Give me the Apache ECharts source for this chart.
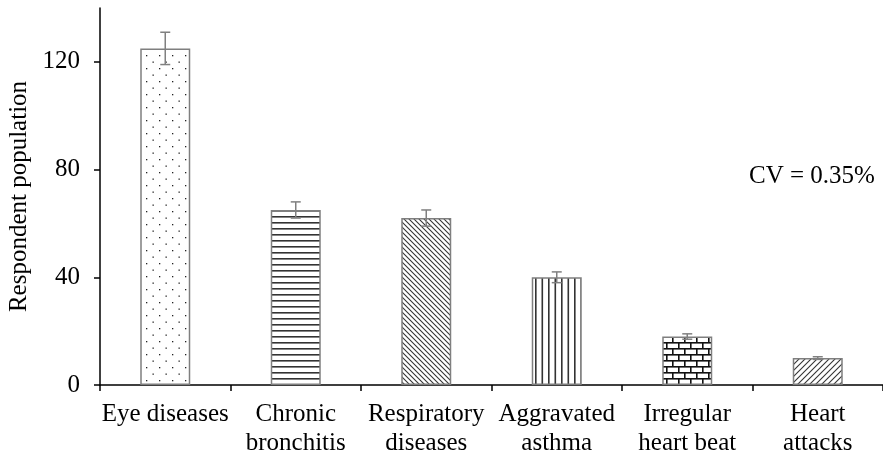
<!DOCTYPE html>
<html>
<head>
<meta charset="utf-8">
<script src="https://cdn.jsdelivr.net/npm/echarts@6/dist/echarts.min.js"></script>
<style>
html,body{margin:0;padding:0;background:#fff;}
#main{width:883px;height:466px;}
</style>
</head>
<body>
<div id="main"></div>
<script>
var categories = ['Eye diseases', 'Chronic\nbronchitis', 'Respiratory\ndiseases', 'Aggravated\nasthma', 'Irregular\nheart beat', 'Heart\nattacks'];
var values = [125, 65, 62, 40, 18, 10];
var errors = [6, 3, 3, 2, 1, 0.5];
var yTicks = [0, 40, 80, 120];
var annotation = 'CV = 0.35%';

function mk(w, h, draw) {
  var c = document.createElement('canvas');
  c.width = w; c.height = h;
  var ctx = c.getContext('2d');
  ctx.fillStyle = '#fff';
  ctx.fillRect(0, 0, w, h);
  draw(ctx, w, h);
  return c;
}
var patDots = mk(13, 13, function (ctx) {
  ctx.fillStyle = '#222';
  ctx.fillRect(3, 3, 1.3, 1.3);
  ctx.fillRect(9.5, 9.5, 1.3, 1.3);
});
var patHoriz = mk(10, 6, function (ctx, w) {
  ctx.fillStyle = '#333';
  ctx.fillRect(0, 0, w, 1.6);
});
function diag(s, dir, lw) {
  return mk(s, s, function (ctx) {
    ctx.strokeStyle = '#333';
    ctx.lineWidth = lw;
    [-s, 0, s].forEach(function (o) {
      ctx.beginPath();
      if (dir > 0) {
        ctx.moveTo(-s, -s + o); ctx.lineTo(2 * s, 2 * s + o);
      } else {
        ctx.moveTo(-s, 2 * s + o); ctx.lineTo(2 * s, -s + o);
      }
      ctx.stroke();
    });
  });
}
var patBack = diag(5, 1, 1.1);
var patVert = mk(13, 10, function (ctx, w, h) {
  ctx.fillStyle = '#333';
  ctx.fillRect(2, 0, 1.6, h);
  ctx.fillRect(8.5, 0, 1.6, h);
});
var patBrick = mk(24, 12, function (ctx) {
  ctx.fillStyle = '#111';
  ctx.fillRect(0, 0, 24, 1.6);
  ctx.fillRect(0, 6, 24, 1.6);
  ctx.fillRect(0, 0, 1.6, 6);
  ctx.fillRect(12, 0, 1.6, 6);
  ctx.fillRect(6, 6, 1.6, 6);
  ctx.fillRect(18, 6, 1.6, 6);
});
var patFwd = diag(6, -1, 1.1);
var patterns = [patDots, patHoriz, patBack, patVert, patBrick, patFwd];

var barData = values.map(function (v, i) {
  return { value: v, itemStyle: { color: { image: patterns[i], repeat: 'repeat' } } };
});
var errData = values.map(function (v, i) { return [i, v - errors[i], v + errors[i]]; });

var chart = echarts.init(document.getElementById('main'), null, { renderer: 'canvas' });
var font = 'Liberation Serif';
chart.setOption({
  animation: false,
  backgroundColor: '#fff',
  grid: { left: 100, right: 0, top: 8, bottom: 81, containLabel: false, outerBoundsMode: 'none' },
  xAxis: {
    type: 'category',
    data: categories,
    axisLine: { lineStyle: { color: '#000', width: 1.5 } },
    axisTick: { show: true, length: 6, lineStyle: { color: '#000', width: 1.5 } },
    axisLabel: { color: '#000', fontFamily: font, fontSize: 25, lineHeight: 29, margin: 15, interval: 0 }
  },
  yAxis: {
    type: 'value',
    min: 0, max: 140,
    name: 'Respondent population',
    nameLocation: 'middle',
    nameGap: 68,
    nameTextStyle: { color: '#000', fontFamily: font, fontSize: 25 },
    splitLine: { show: false },
    axisLine: { show: true, lineStyle: { color: '#000', width: 1.5 } },
    axisTick: { show: true, length: 6, customValues: yTicks, lineStyle: { color: '#000', width: 1.5 } },
    axisLabel: { color: '#000', fontFamily: font, fontSize: 25, margin: 20, customValues: yTicks }
  },
  series: [
    {
      type: 'bar',
      data: barData,
      barWidth: 50,
      itemStyle: { borderColor: '#7f7f7f', borderWidth: 1.5 },
      z: 2
    },
    {
      type: 'custom',
      data: errData,
      encode: { x: 0, y: [1, 2] },
      z: 3,
      renderItem: function (params, api) {
        var x = api.value(0);
        var top = api.coord([x, api.value(2)]);
        var bot = api.coord([x, api.value(1)]);
        var hw = 5;
        var st = { stroke: '#808080', lineWidth: 1.5 };
        return {
          type: 'group',
          children: [
            { type: 'line', shape: { x1: top[0], y1: top[1], x2: bot[0], y2: bot[1] }, style: st },
            { type: 'line', shape: { x1: top[0] - hw, y1: top[1], x2: top[0] + hw, y2: top[1] }, style: st },
            { type: 'line', shape: { x1: bot[0] - hw, y1: bot[1], x2: bot[0] + hw, y2: bot[1] }, style: st }
          ]
        };
      }
    }
  ],
  graphic: [
    {
      type: 'text',
      left: 749,
      top: 164,
      style: { text: annotation, fill: '#000', font: '25px "Liberation Serif"' }
    }
  ]
});
</script>
</body>
</html>
